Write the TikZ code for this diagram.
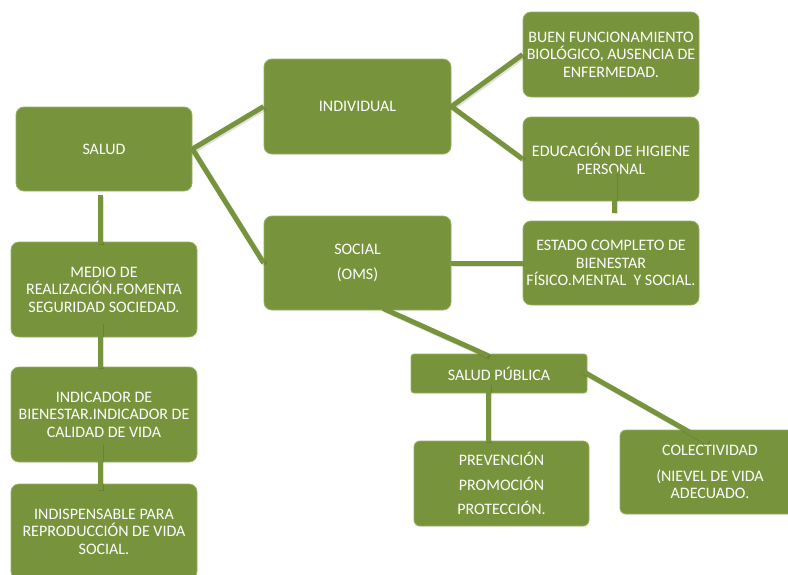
\documentclass[tikz,border=0pt]{standalone}
\usepackage{fontspec}
\setmainfont{Carlito}
\usetikzlibrary{calc}
\definecolor{olive}{RGB}{119,147,60}
\definecolor{oliveedge}{RGB}{150,175,100}
\tikzset{
  box/.style={rectangle, rounded corners=8pt, fill=olive, draw=oliveedge, line width=0.8pt,
    text=white, align=center, inner sep=0pt,
    font=\fontsize{16}{17.5}\selectfont},
  smallbox/.style={box, rounded corners=3pt},
  link/.style={draw=olive, line width=5pt,
    preaction={draw=black, opacity=0.12, line width=5pt, transform canvas={xshift=1.5pt,yshift=-1.5pt}}},
}
\begin{document}
\begin{tikzpicture}[x=1pt,y=-1pt]
\useasboundingbox (0,0) rectangle (788,574);
% left column
\node[box, minimum width=176pt, minimum height=84pt] (salud) at (104,149) {SALUD};
\node[box, minimum width=186pt, minimum height=95pt] (medio) at (104,289.5) {MEDIO DE\\REALIZACIÓN.FOMENTA\\SEGURIDAD SOCIEDAD.};
\node[box, minimum width=186pt, minimum height=95pt] (indic) at (104,414.5) {INDICADOR DE\\BIENESTAR.INDICADOR DE\\CALIDAD DE VIDA};
\node[box, minimum width=186pt, minimum height=95pt] (indis) at (104,531.5) {INDISPENSABLE PARA\\REPRODUCCIÓN DE VIDA\\SOCIAL.};
% middle
\node[box, minimum width=187pt, minimum height=95pt] (indiv) at (357.5,106.5) {INDIVIDUAL};
\node[box, minimum width=187pt, minimum height=94pt] (social) at (357.5,263) {SOCIAL\\[7.5pt](OMS)};
% right
\node[box, minimum width=176pt, minimum height=85pt] (buen) at (611,54.5) {BUEN FUNCIONAMIENTO\\BIOLÓGICO, AUSENCIA DE\\ENFERMEDAD.};
\node[box, minimum width=176pt, minimum height=84pt] (educ) at (611,159) {EDUCACIÓN DE HIGIENE\\PERSONAL};
\node[box, minimum width=176pt, minimum height=84pt] (estado) at (611,263) {ESTADO COMPLETO DE\\BIENESTAR\\FÍSICO.MENTAL\ \ Y SOCIAL.};
% lower right
\node[smallbox, minimum width=176pt, minimum height=39pt] (sp) at (499,373.5) {SALUD PÚBLICA};
\node[box, rounded corners=6pt, minimum width=175pt, minimum height=85pt] (prev) at (501.5,483.5) {PREVENCIÓN\\[7pt]PROMOCIÓN\\[7pt]PROTECCIÓN.};
\node[box, rounded corners=6pt, minimum width=180pt, minimum height=84pt] (col) at (710,472) {COLECTIVIDAD\\[8.5pt](NIEVEL DE VIDA\\ADECUADO.};
% connectors
\draw[link, line join=miter] (indiv.west) -- (salud.east) -- (social.west);
\draw[link, line join=miter] (buen.west) -- (indiv.east) -- (educ.west);
\draw[link] (social.east) -- (estado.west);
\draw[link] ([xshift=-4pt,yshift=-4pt]salud.south) -- ([xshift=-4pt,yshift=-2pt]medio.north);
\draw[link] ([xshift=-4pt,yshift=15pt]medio.south) -- ([xshift=-4pt,yshift=-1pt]indic.north);
\draw[link] ([xshift=-4pt,yshift=19pt]indic.south) -- ([xshift=-4pt,yshift=-6pt]indis.north);
\draw[link] ([xshift=3pt,yshift=31pt]educ.south) -- ([xshift=3pt,yshift=8pt]estado.north);
\draw[link] ([xshift=25.5pt,yshift=2pt]social.south) -- ([xshift=-11pt,yshift=-2pt]sp.north);
\draw[link] ([xshift=-11pt,yshift=10pt]sp.south) -- ([xshift=-13.5pt,yshift=-1pt]prev.north);
\draw[link] ([xshift=-7pt,yshift=3.5pt]sp.east) -- ([xshift=-2pt,yshift=-13pt]col.north);
\end{tikzpicture}
\end{document}
